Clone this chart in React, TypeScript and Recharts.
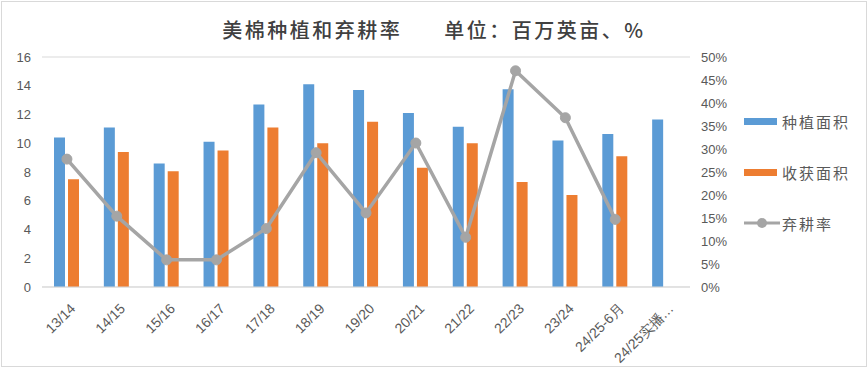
import React from "react";
import { ComposedChart, Bar, Line, XAxis, YAxis, CartesianGrid } from "recharts";

const seasons = ["13/14", "14/15", "15/16", "16/17", "17/18", "18/19", "19/20", "20/21", "21/22", "22/23", "23/24", "24/25-6月", "24/25实播…"];
const planted = [10.4, 11.1, 8.6, 10.1, 12.7, 14.1, 13.7, 12.1, 11.15, 13.75, 10.2, 10.65, 11.65];
const harvested = [7.5, 9.4, 8.05, 9.5, 11.1, 10.0, 11.5, 8.3, 10.0, 7.3, 6.4, 9.1, null];
const abandonRate = [0.278, 0.154, 0.059, 0.059, 0.127, 0.292, 0.161, 0.313, 0.108, 0.47, 0.368, 0.147, null];

const leftTicks = [0, 2, 4, 6, 8, 10, 12, 14, 16];
const rightTicks = [0, 0.05, 0.1, 0.15, 0.2, 0.25, 0.3, 0.35, 0.4, 0.45, 0.5];

const data = seasons.map((s, i) => ({
  name: s,
  planted: planted[i],
  harvested: harvested[i],
  rate: abandonRate[i],
}));

const cjk = '"Noto Sans CJK SC", "Noto Sans", sans-serif';
const axisFont = '"Liberation Sans", Arial, sans-serif';

const XTick = (props: any) => {
  const { x, y, payload } = props;
  return (
    <g transform={`translate(${x + 3},${y + 8})`}>
      <text x={0} y={0} dy={9} textAnchor="end" transform="rotate(-45)" fill="#595959" fontSize={14} fontFamily={axisFont}>
        {payload.value}
      </text>
    </g>
  );
};

const LegendBox = () => (
  <div style={{ position: "absolute", left: 744, top: 111, fontFamily: cjk, fontSize: 15, letterSpacing: 2, color: "#595959" }}>
    <div style={{ display: "flex", alignItems: "center", height: 20 }}>
      <span style={{ width: 33, height: 7, background: "#5b9bd5", marginRight: 5 }} />
      <span>种植面积</span>
    </div>
    <div style={{ display: "flex", alignItems: "center", height: 20, marginTop: 31 }}>
      <span style={{ width: 33, height: 7, background: "#ed7d31", marginRight: 5 }} />
      <span>收获面积</span>
    </div>
    <div style={{ display: "flex", alignItems: "center", height: 20, marginTop: 31 }}>
      <svg width={36} height={12} style={{ marginRight: 2 }}>
        <line x1={0} y1={6} x2={36} y2={6} stroke="#a5a5a5" strokeWidth={3} />
        <circle cx={18} cy={6} r={5} fill="#a5a5a5" />
      </svg>
      <span>弃耕率</span>
    </div>
  </div>
);

export default function App() {
  return (
    <div style={{ position: "fixed", left: 0, top: 0, width: 868, height: 368, background: "#fff" }}>
      <div style={{ position: "absolute", left: 1, top: 1, width: 864, height: 364, border: "1px solid #d9d9d9" }} />
      <div
        style={{
          position: "absolute",
          left: 0,
          top: 15,
          width: 868,
          textAlign: "center",
          fontFamily: cjk,
          fontSize: 20,
          fontWeight: 500,
          color: "#404040",
          whiteSpace: "pre",
          letterSpacing: 2.5,
        }}
      >
        {"美棉种植和弃耕率      单位：百万英亩、%"}
      </div>
      <ComposedChart
        width={868}
        height={368}
        data={data}
        margin={{ top: 57, right: 138, left: 0, bottom: 0 }}
        barGap={3}
        barSize={11}
      >
        <CartesianGrid vertical={false} stroke="#d9d9d9" strokeWidth={1} />
        <XAxis
          dataKey="name"
          height={81}
          interval={0}
          tick={<XTick />}
          tickLine={false}
          axisLine={{ stroke: "#d9d9d9" }}
        />
        <YAxis
          yAxisId="left"
          width={42}
          domain={[0, 16]}
          ticks={leftTicks}
          axisLine={false}
          tickLine={false}
          tick={{ fill: "#595959", fontSize: 13, fontFamily: axisFont }}
          tickMargin={5}
        />
        <YAxis
          yAxisId="right"
          orientation="right"
          width={40}
          domain={[0, 0.5]}
          ticks={rightTicks}
          axisLine={false}
          tickLine={false}
          tick={{ fill: "#595959", fontSize: 13, fontFamily: axisFont }}
          tickMargin={5}
          tickFormatter={(v: number) => `${Math.round(v * 100)}%`}
        />
        <Bar yAxisId="left" dataKey="planted" name="种植面积" fill="#5b9bd5" isAnimationActive={false} />
        <Bar yAxisId="left" dataKey="harvested" name="收获面积" fill="#ed7d31" isAnimationActive={false} />
        <Line
          yAxisId="right"
          dataKey="rate"
          name="弃耕率"
          stroke="#a5a5a5"
          strokeWidth={3.5}
          dot={{ r: 5, fill: "#a5a5a5", stroke: "#a5a5a5", strokeWidth: 1 }}
          isAnimationActive={false}
        />
      </ComposedChart>
      <LegendBox />
    </div>
  );
}
